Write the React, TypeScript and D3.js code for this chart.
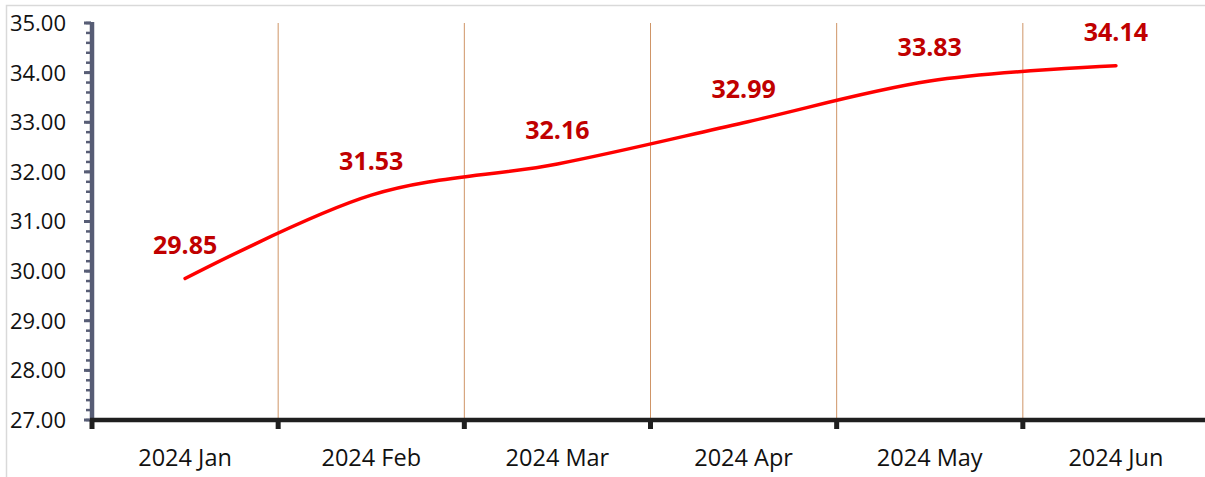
import React from 'react';
import * as d3 from 'd3';

const months = ['2024 Jan', '2024 Feb', '2024 Mar', '2024 Apr', '2024 May', '2024 Jun'];
const values = [29.85, 31.53, 32.16, 32.99, 33.83, 34.14];
const yTicks = [27, 28, 29, 30, 31, 32, 33, 34, 35];

const W = 1205;
const H = 477;
const left = 92;
const top = 23;
const bottom = 420;

const App = () => {
  const x = d3.scaleBand<string>().domain(months).range([left, 1209]);
  const y = d3.scaleLinear().domain([27, 35]).range([bottom, top]);

  const line = d3
    .line<number>()
    .x((_, i) => (x(months[i]) as number) + x.bandwidth() / 2)
    .y((d) => y(d))
    .curve(d3.curveCardinal);

  const minor = d3.range(27, 35.001, 0.2);
  const bounds = months.map((m) => x(m) as number).concat([x.range()[1]]);

  return (
    <svg width={W} height={H} style={{ position: 'absolute', left: 0, top: 0, background: '#fff' }}>
      <rect x={6.5} y={5.5} width={W + 10} height={H + 10} fill="none" stroke="#d9d9d9" strokeWidth={1.5} />

      {/* vertical category gridlines */}
      {bounds.slice(1).map((b, i) => (
        <line key={'g' + i} x1={b} x2={b} y1={top} y2={bottom} stroke="#cf9567" strokeWidth={1} />
      ))}

      {/* y axis */}
      {minor.map((v, i) => (
        <line key={'m' + i} x1={86} x2={91} y1={y(v)} y2={y(v)} stroke="#575d75" strokeWidth={2.5} />
      ))}
      {yTicks.map((t) => (
        <line key={'t' + t} x1={84} x2={91} y1={y(t)} y2={y(t)} stroke="#575d75" strokeWidth={3} />
      ))}
      <line x1={left} x2={left} y1={top - 1} y2={bottom} stroke="#575d75" strokeWidth={4.5} />
      {yTicks.map((t) => (
        <text
          key={'l' + t}
          x={66}
          y={y(t)}
          dy="0.36em"
          textAnchor="end"
          fontFamily="'Open Sans', sans-serif"
          fontSize={22}
          fill="#111"
        >
          {t.toFixed(2)}
        </text>
      ))}

      {/* x axis */}
      <line x1={left - 2} x2={W + 10} y1={bottom} y2={bottom} stroke="#1f1f1f" strokeWidth={4.5} />
      {bounds.map((b, i) => (
        <rect key={'xt' + i} x={b - 2.5} y={bottom} width={5} height={9} fill="#1f1f1f" />
      ))}
      {months.map((m) => (
        <text
          key={m}
          x={(x(m) as number) + x.bandwidth() / 2}
          y={466}
          textAnchor="middle"
          fontFamily="'Open Sans', sans-serif"
          fontSize={23.5}
          fill="#111"
        >
          {m}
        </text>
      ))}

      {/* series */}
      <path d={line(values) || ''} fill="none" stroke="#ff0000" strokeWidth={3.5} strokeLinecap="round" />
      {values.map((v, i) => (
        <text
          key={'v' + i}
          x={(x(months[i]) as number) + x.bandwidth() / 2}
          y={y(v) - 34}
          dy="0.36em"
          textAnchor="middle"
          fontFamily="'Open Sans', sans-serif"
          fontWeight="bold"
          fontSize={25}
          fill="#c00000"
        >
          {v.toFixed(2)}
        </text>
      ))}
    </svg>
  );
};

export default App;
